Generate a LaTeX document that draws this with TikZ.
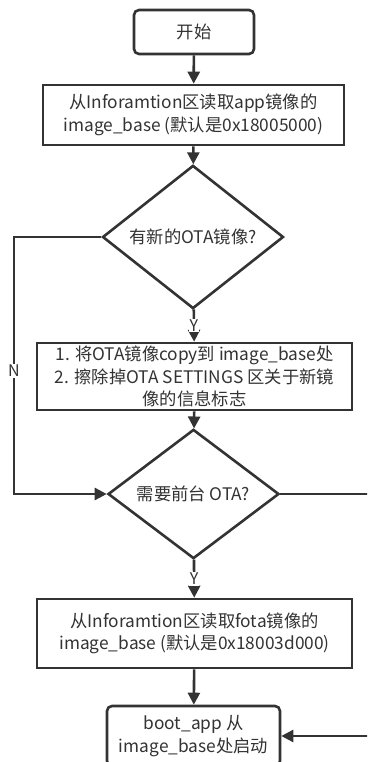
\documentclass[tikz,border=0pt]{standalone}
\usepackage{fontspec}
\setmainfont{Noto Sans CJK SC}
\usetikzlibrary{shapes.geometric,arrows.meta}
\definecolor{ink}{HTML}{333333}

\begin{document}
\begin{tikzpicture}[x=1pt,y=-1pt,
  every node/.style={font=\fontsize{17.3}{22.5}\selectfont, text=ink},
  flowbox/.style={draw=ink, line width=2.6pt, fill=white, align=center, inner sep=0pt},
  roundbox/.style={flowbox, rounded corners=5pt},
  decision/.style={draw=ink, line width=2.6pt, fill=white, diamond, inner sep=0pt, align=center},
  flow/.style={draw=ink, line width=2.6pt, -{Triangle[length=12pt,width=12pt]}},
  branch/.style={fill=white, inner sep=1pt, font=\fontsize{16}{18}\selectfont}
]
\useasboundingbox (0,0) rectangle (367,762);
\clip (0,0) rectangle (367,762);

% process steps
\node[roundbox, minimum width=120pt, minimum height=44pt] (start) at (194,32) {开始};
\node[flowbox, minimum width=301pt, minimum height=60pt] (readapp) at (193.5,115)
  {从Inforamtion区读取app镜像的\\image\_base (默认是0x18005000)};
\node[decision, minimum width=181pt, minimum height=118pt] (newota) at (193,237) {有新的OTA镜像?};
\node[flowbox, minimum width=315pt, minimum height=67pt] (copy) at (194.5,376.5)
  {1. 将OTA镜像copy到 image\_base处\\2. 擦除掉OTA SETTINGS 区关于新镜\\像的信息标志};
\node[decision, minimum width=171pt, minimum height=110pt] (fgota) at (193.5,494) {需要前台 OTA?};
\node[flowbox, minimum width=315pt, minimum height=69pt] (readfota) at (194.5,633.5)
  {从Inforamtion区读取fota镜像的\\image\_base (默认是0x18003d000)};
\node[roundbox, minimum width=173pt, minimum height=60pt] (boot) at (193.5,736)
  {boot\_app 从\\image\_base处启动};

% corner points of the side branches
\coordinate (nl1) at (14,237);
\coordinate (nl2) at (14,494);
\coordinate (nr1) at (385,494);
\coordinate (nr2) at (385,736);

% connectors
\draw[flow] (start) -- (readapp);
\draw[flow] (readapp) -- (newota);
\draw[flow] (newota) -- node[branch, pos=0.5] {Y} (copy);
\draw[flow] (copy) -- (fgota);
\draw[flow] (newota.west) -- (nl1) -- node[branch, pos=0.52] {N} (nl2) -- (fgota.west);
\draw[flow] (fgota) -- node[branch, pos=0.5] {Y} (readfota);
\draw[flow] (readfota) -- (boot);
\draw[flow] (fgota.east) -- (nr1) -- node[branch, pos=0.48] {N} (nr2) -- (boot.east);
\end{tikzpicture}
\end{document}
